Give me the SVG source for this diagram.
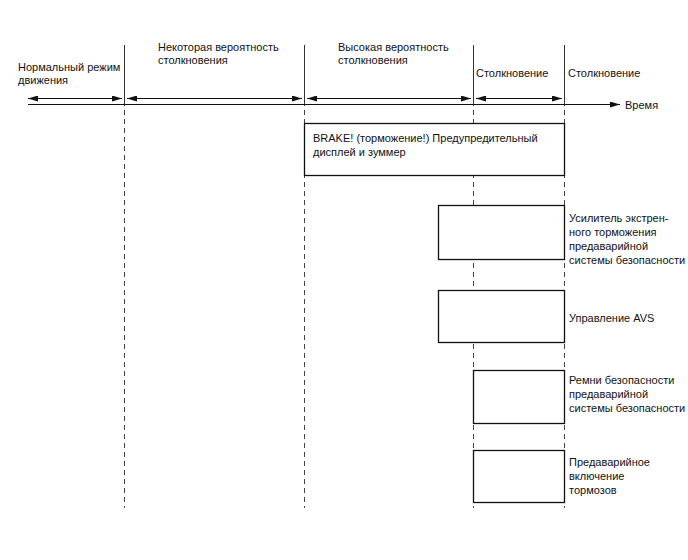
<svg xmlns="http://www.w3.org/2000/svg" width="688" height="560" viewBox="0 0 688 560">
<defs>
<marker id="ah" viewBox="0 0 10 6" refX="10" refY="3" markerWidth="10" markerHeight="6" orient="auto-start-reverse" markerUnits="userSpaceOnUse"><path d="M0,0 L10,3 L0,6 z" fill="#111"/></marker>
<style>
text{font-family:"Liberation Sans",Arial,sans-serif;font-size:11px;fill:#111}
.solid{stroke:#333;stroke-width:1;fill:none}
.dash{stroke:#444;stroke-width:1;stroke-dasharray:5,4;fill:none}
.box{fill:#fff;stroke:#111;stroke-width:1.3}
.arr{stroke:#111;stroke-width:1;marker-start:url(#ah);marker-end:url(#ah)}
</style>
</defs>
<rect width="688" height="560" fill="#fff"/>
<g id="connectors">
<line class="solid" x1="124.5" y1="45" x2="124.5" y2="106"/>
<line class="solid" x1="304.5" y1="45" x2="304.5" y2="106"/>
<line class="solid" x1="473.5" y1="45" x2="473.5" y2="106"/>
<line class="solid" x1="564.5" y1="45" x2="564.5" y2="106"/>
<line class="dash" x1="124.5" y1="110" x2="124.5" y2="508"/>
<line class="dash" x1="304.5" y1="110" x2="304.5" y2="508"/>
<line class="dash" x1="473.5" y1="110" x2="473.5" y2="508"/>
<line class="dash" x1="564.5" y1="110" x2="564.5" y2="508"/>
<line class="arr" x1="28" y1="98.5" x2="122" y2="98.5"/>
<line class="arr" x1="127" y1="98.5" x2="302" y2="98.5"/>
<line class="arr" x1="307" y1="98.5" x2="471" y2="98.5"/>
<line class="arr" x1="476" y1="98.5" x2="562" y2="98.5"/>
<line x1="28" y1="104.5" x2="620" y2="104.5" stroke="#111" stroke-width="1" marker-end="url(#ah)"/>
</g>
<g id="headers">
<text x="18" y="71">Нормальный режим</text>
<text x="18" y="84">движения</text>
<text x="158" y="51">Некоторая вероятность</text>
<text x="158" y="64">столкновения</text>
<text x="338" y="51">Высокая вероятность</text>
<text x="338" y="64">столкновения</text>
<text x="476" y="77">Столкновение</text>
<text x="568" y="77">Столкновение</text>
<text x="625" y="109">Время</text>
</g>
<g id="brake">
<rect class="box" x="304.5" y="123.5" width="260" height="52"/>
<text x="313" y="142">BRAKE! (торможение!) Предупредительный</text>
<text x="313" y="156">дисплей и зуммер</text>
</g>
<g id="brake-assist">
<rect class="box" x="438.5" y="205.5" width="126" height="54"/>
<text x="569" y="222">Усилитель экстрен-</text>
<text x="569" y="236">ного торможения</text>
<text x="569" y="250">предаварийной</text>
<text x="569" y="264">системы безопасности</text>
</g>
<g id="avs">
<rect class="box" x="438.5" y="290.5" width="126" height="52"/>
<text x="569" y="322">Управление AVS</text>
</g>
<g id="seatbelts">
<rect class="box" x="473.5" y="370.5" width="91" height="53"/>
<text x="569" y="384">Ремни безопасности</text>
<text x="569" y="398">предаварийной</text>
<text x="569" y="412">системы безопасности</text>
</g>
<g id="prebrake">
<rect class="box" x="473.5" y="450.5" width="91" height="52"/>
<text x="569" y="466">Предаварийное</text>
<text x="569" y="480">включение</text>
<text x="569" y="494">тормозов</text>
</g>
</svg>
